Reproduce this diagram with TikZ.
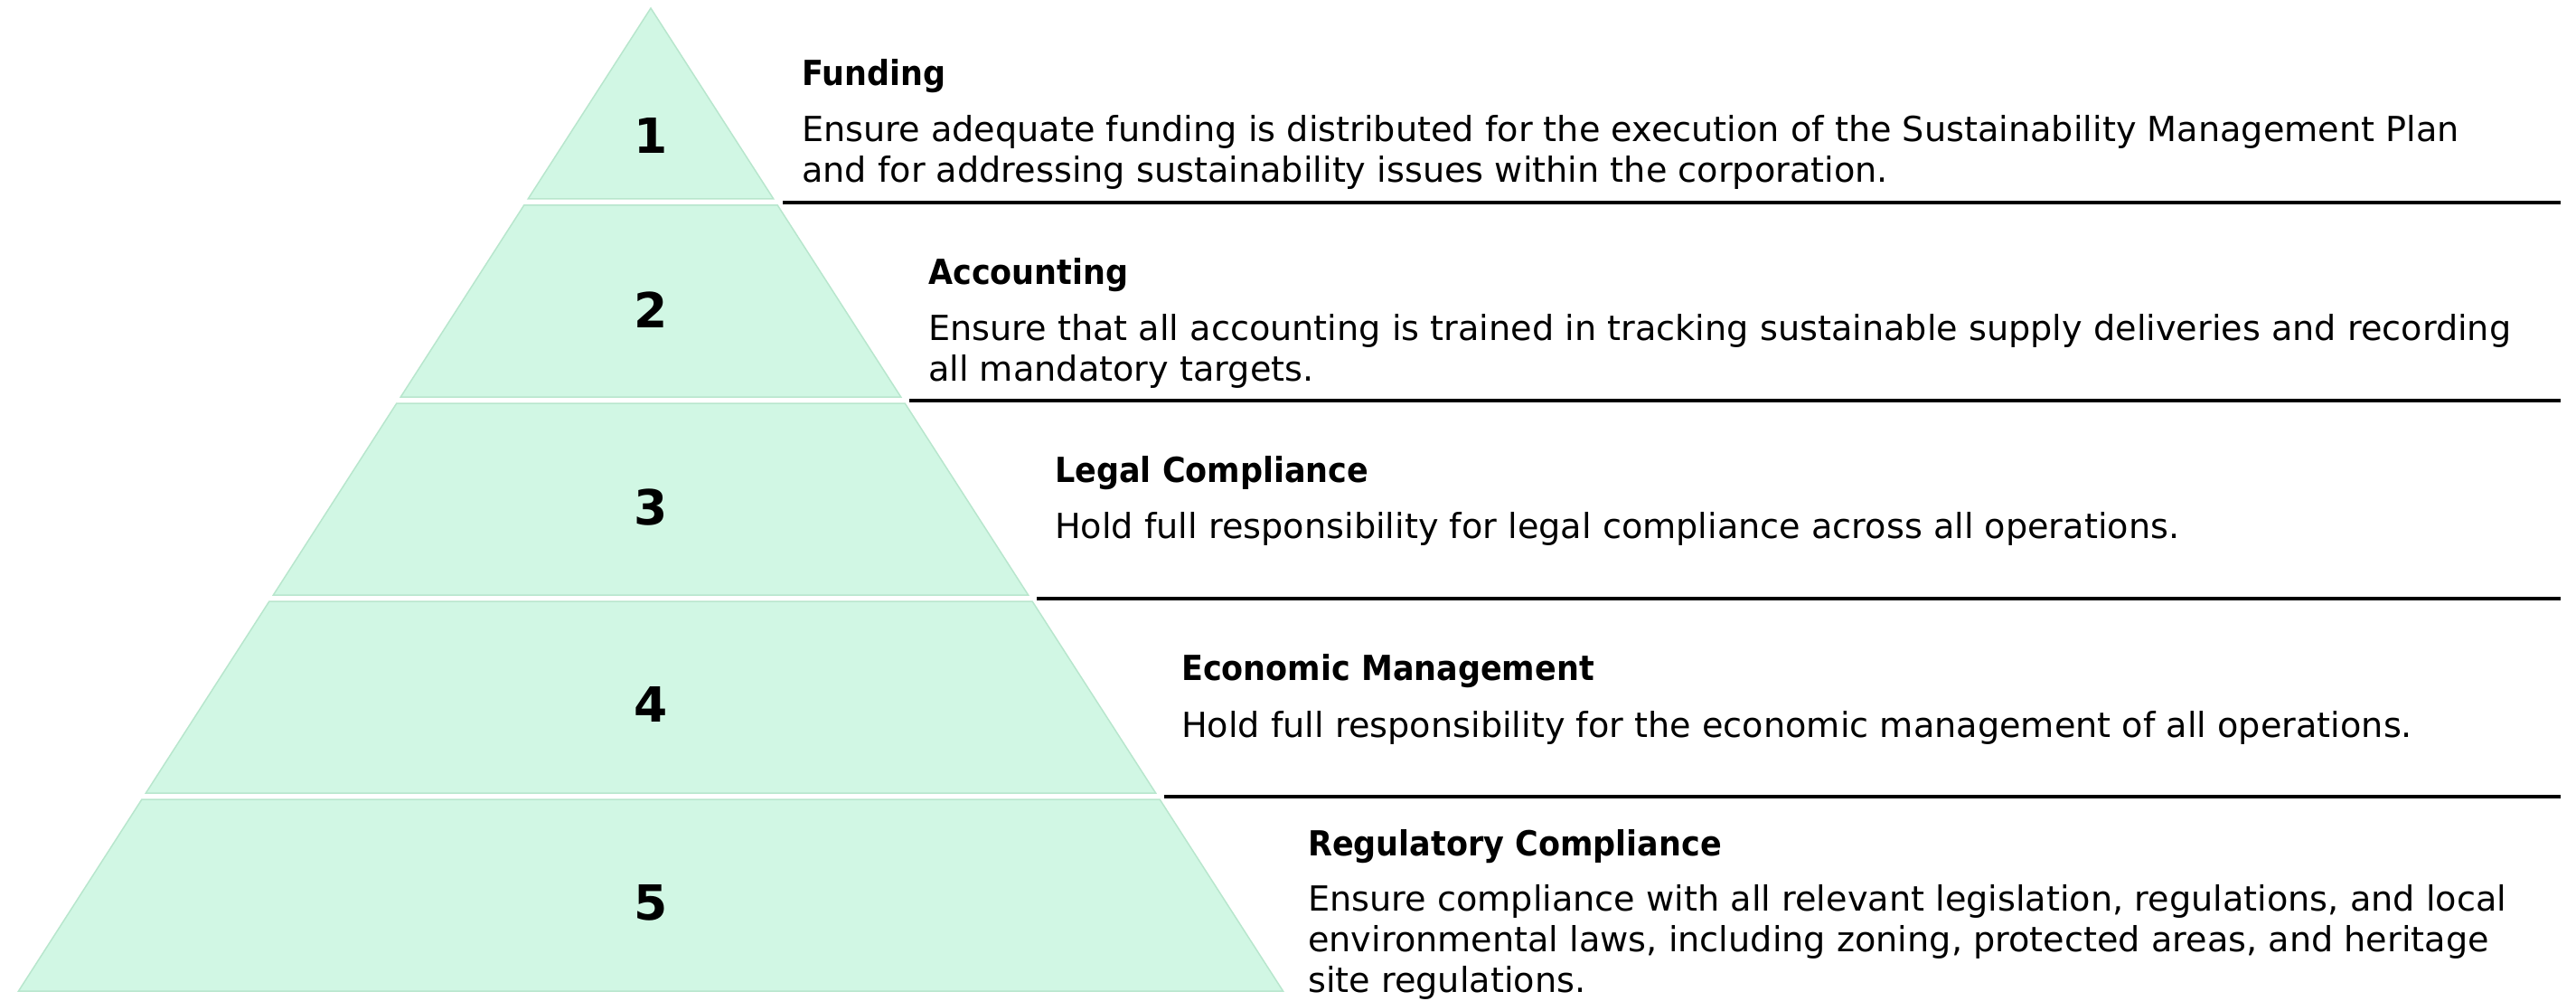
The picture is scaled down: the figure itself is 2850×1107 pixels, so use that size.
\documentclass[tikz,border=0pt]{standalone}
\usepackage{fontspec}
\setmainfont{DejaVu Sans}
\newfontfamily\ttlfont{DejaVu Sans}[FakeStretch=0.916]
\definecolor{tierfill}{HTML}{D1F7E4}
\definecolor{tieredge}{HTML}{B8E6CD}
\begin{document}
\begin{tikzpicture}[x=1pt,y=-1pt,
  tier/.style={fill=tierfill,draw=tieredge,line width=1.5pt,line join=miter},
  num/.style={font=\fontsize{53.5}{60}\selectfont\bfseries,inner sep=0pt,anchor=center},
  ttl/.style={font=\fontsize{38.2}{45}\ttlfont\bfseries,inner sep=0pt,anchor=base west},
  txt/.style={font=\fontsize{38.2}{45}\selectfont,inner sep=0pt,anchor=base west},
  sepline/.style={line width=3.6pt,black}]
\useasboundingbox (0,0) rectangle (2850,1107);

% pyramid tiers
\draw[tier] (720,9) -- (855.8,220) -- (584.2,220) -- cycle;
\draw[tier] (579.7,227) -- (860.3,227) -- (996.7,439) -- (443.3,439) -- cycle;
\draw[tier] (438.8,446) -- (1001.2,446) -- (1137.6,658) -- (302.4,658) -- cycle;
\draw[tier] (297.9,665) -- (1142.1,665) -- (1278.6,877) -- (161.4,877) -- cycle;
\draw[tier] (156.9,884) -- (1283.1,884) -- (1419.5,1096) -- (20.5,1096) -- cycle;

% numbers
\node[num] (n1) at (720,150) {1};
\node[num] (n2) at (720,343) {2};
\node[num] (n3) at (720,561) {3};
\node[num] (n4) at (720,779) {4};
\node[num] (n5) at (720,998) {5};

% separator lines
\coordinate (s1a) at (866,224);  \coordinate (s1b) at (2833,224);
\coordinate (s2a) at (1006,443); \coordinate (s2b) at (2833,443);
\coordinate (s3a) at (1147,662); \coordinate (s3b) at (2833,662);
\coordinate (s4a) at (1288,881); \coordinate (s4b) at (2833,881);
\draw[sepline] (s1a) -- (s1b);
\draw[sepline] (s2a) -- (s2b);
\draw[sepline] (s3a) -- (s3b);
\draw[sepline] (s4a) -- (s4b);

% texts
\node[ttl] (t1) at (887,95) {Funding};
\node[txt] (b1a) at (887,157) {Ensure adequate funding is distributed for the execution of the Sustainability Management Plan};
\node[txt] (b1b) at (887,202) {and for addressing sustainability issues within the corporation.};

\node[ttl] (t2) at (1027,314) {Accounting};
\node[txt] (b2a) at (1027,376) {Ensure that all accounting is trained in tracking sustainable supply deliveries and recording};
\node[txt] (b2b) at (1027,421) {all mandatory targets.};

\node[ttl] (t3) at (1167,533) {Legal Compliance};
\node[txt] (b3a) at (1167,595) {Hold full responsibility for legal compliance across all operations.};

\node[ttl] (t4) at (1307,752) {Economic Management};
\node[txt] (b4a) at (1307,815) {Hold full responsibility for the economic management of all operations.};

\node[ttl] (t5) at (1447,946) {Regulatory Compliance};
\node[txt] (b5a) at (1447,1007) {Ensure compliance with all relevant legislation, regulations, and local};
\node[txt] (b5b) at (1447,1052) {environmental laws, including zoning, protected areas, and heritage};
\node[txt] (b5c) at (1447,1097) {site regulations.};
\end{tikzpicture}
\end{document}
